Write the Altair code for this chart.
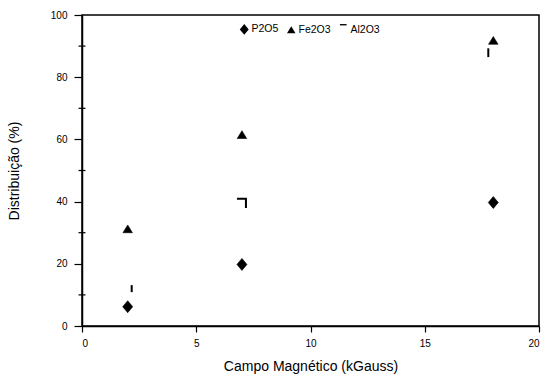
import altair as alt
import pandas as pd

# ---- data ----
campo = [2, 7, 18]
p2o5 = [6.2, 19.8, 39.7]
fe2o3 = [31.2, 61.5, 91.8]
al2o3 = [12.1, 40.0, 88.0]
al2o3_glyph = ["a", "b", "c"]
series_names = ["P2O5", "Fe2O3", "Al2O3"]
x_ticks = [0, 5, 10, 15, 20]
y_ticks = [0, 20, 40, 60, 80, 100]
y_minor = [10, 30, 50, 70, 90]

main_rows = []
for name, vals in (("P2O5", p2o5), ("Fe2O3", fe2o3)):
    for c, v in zip(campo, vals):
        main_rows.append({"campo": c, "dist": v, "serie": name})
df_main = pd.DataFrame(main_rows)
df_al = pd.DataFrame({"campo": campo, "dist": al2o3, "glyph": al2o3_glyph})
df_minor = pd.DataFrame({"v": y_minor})

FONT = "Liberation Sans"
diamond = "M0,-1.2L1,0L0,1.2L-1,0Z"
triangle = "M0,-0.8L0.95,0.75L-0.95,0.75Z"
overline = "M-0.75,-1.3L0.75,-1.3L0.75,-1.0L-0.75,-1.0Z"
glyph_paths = ["M0.8,-0.65L0.8,0.75", "M-1,-0.55L0.8,-0.55L0.8,1.3", "M-1,-0.8L-1,0.95"]

xscale = alt.Scale(domain=[0, 20], nice=False)
yscale = alt.Scale(domain=[0, 100], nice=False)

common_axis = dict(
    grid=False, domainColor="black", domainWidth=1.5, tickColor="black",
    tickWidth=1.2, labelFont=FONT, labelFontSize=10, labelColor="black",
    titleFont=FONT, titleFontSize=14, titleFontWeight="normal", titleColor="black",
)

x_enc = alt.X(
    "campo:Q", scale=xscale,
    axis=alt.Axis(values=x_ticks, title="Campo Magnético (kGauss)", tickSize=6,
                  labelPadding=6, titleY=40, titleBaseline="middle", **common_axis),
)
y_enc = alt.Y(
    "dist:Q", scale=yscale,
    axis=alt.Axis(values=y_ticks, title="Distribuição (%)", tickSize=8,
                  labelPadding=7, titleX=-68, titleY=155.5, titleBaseline="middle",
                  **common_axis),
)

points = alt.Chart(df_main).mark_point(
    filled=True, fill="black", stroke="black", strokeWidth=0.6, size=100, opacity=1
).encode(
    x=x_enc,
    y=y_enc,
    shape=alt.Shape(
        "serie:N",
        scale=alt.Scale(domain=series_names, range=[diamond, triangle, overline]),
        legend=alt.Legend(
            title=None, orient="none", legendX=157, legendY=9, direction="horizontal",
            labelFont=FONT, labelFontSize=10.5, labelColor="black", labelOffset=2,
            columnPadding=7, symbolSize=80, symbolFillColor="black",
            symbolStrokeColor="black", symbolStrokeWidth=0.5, symbolOpacity=1,
        ),
    ),
)

al_points = alt.Chart(df_al).mark_point(
    filled=False, stroke="black", strokeWidth=2, size=100, opacity=1
).encode(
    x=alt.X("campo:Q", scale=xscale),
    y=alt.Y("dist:Q", scale=yscale),
    shape=alt.Shape(
        "glyph:N",
        scale=alt.Scale(domain=al2o3_glyph, range=glyph_paths),
        legend=None,
    ),
)

minor = alt.Chart(df_minor).mark_rule(color="black", strokeWidth=1.2).encode(
    y=alt.Y("v:Q", scale=yscale),
    x=alt.value(-3.5),
    x2=alt.value(3.5),
)

chart = (
    alt.layer(minor, points, al_points)
    .resolve_scale(shape="independent")
    .properties(
        width=457,
        height=311,
        background="white",
        autosize=alt.AutoSizeParams(type="none"),
        padding={"left": 82, "top": 15, "right": 7, "bottom": 51},
    )
    .configure_view(stroke="black", strokeWidth=1.5)
    .configure_axis(**common_axis)
)

chart.save("out.html", embed_options={"renderer": "svg", "actions": False})
